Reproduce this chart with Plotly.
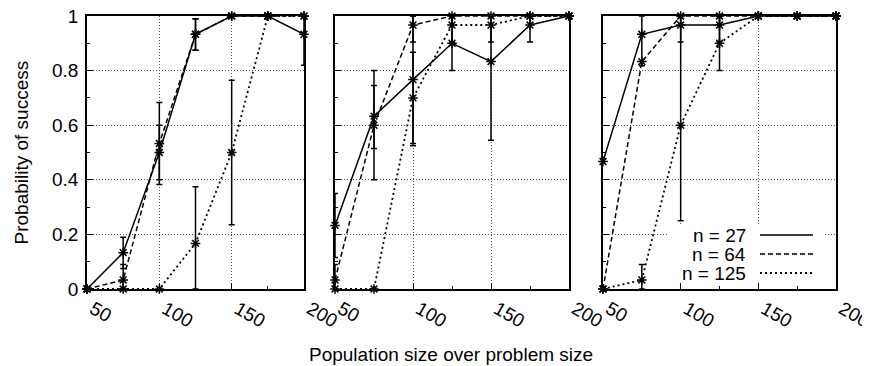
import numpy as np
import plotly.graph_objects as go

# ---------------- data ----------------
x_vals = [50, 75, 100, 125, 150, 175, 200]
x_ticks = [50, 100, 150, 200]
y_ticks = [0, 0.2, 0.4, 0.6, 0.8, 1]
series_names = ["n = 27", "n = 64", "n = 125"]

# Panel 1
p1_n27 = [0, 0.133, 0.5, 0.933, 1, 1, 0.933]
p1_n27_lo = [0, 0.075, 0.4, 0.875, 1, 1, 0.82]
p1_n27_hi = [0, 0.19, 0.6, 0.99, 1, 1, 1]
p1_n64 = [0, 0.033, 0.533, 0.933, 1, 1, 1]
p1_n64_lo = [0, 0, 0.383, 0.875, 1, 1, 1]
p1_n64_hi = [0, 0.09, 0.683, 0.99, 1, 1, 1]
p1_n125 = [0, 0, 0, 0.167, 0.5, 1, 1]
p1_n125_lo = [0, 0, 0, 0, 0.235, 1, 1]
p1_n125_hi = [0, 0, 0, 0.375, 0.765, 1, 1]

# Panel 2
p2_n27 = [0.233, 0.633, 0.767, 0.9, 0.833, 0.967, 1]
p2_n27_lo = [0.115, 0.515, 0.533, 0.8, 0.545, 0.905, 1]
p2_n27_hi = [0.35, 0.745, 1, 1, 1, 1, 1]
p2_n64 = [0.033, 0.6, 0.967, 1, 1, 1, 1]
p2_n64_lo = [0, 0.4, 0.905, 1, 1, 1, 1]
p2_n64_hi = [0.09, 0.8, 1, 1, 1, 1, 1]
p2_n125 = [0, 0, 0.7, 0.967, 0.967, 1, 1]
p2_n125_lo = [0, 0, 0.525, 0.905, 0.905, 1, 1]
p2_n125_hi = [0, 0, 0.867, 1, 1, 1, 1]

# Panel 3
p3_n27 = [0.467, 0.933, 0.967, 0.967, 1, 1, 1]
p3_n27_lo = [0.467, 0.818, 0.905, 0.907, 1, 1, 1]
p3_n27_hi = [0.467, 1, 1, 1, 1, 1, 1]
p3_n64 = [0, 0.833, 1, 1, 1, 1, 1]
p3_n64_lo = [0, 0.833, 1, 1, 1, 1, 1]
p3_n64_hi = [0, 0.833, 1, 1, 1, 1, 1]
p3_n125 = [0, 0.033, 0.6, 0.9, 1, 1, 1]
p3_n125_lo = [0, 0, 0.25, 0.8, 1, 1, 1]
p3_n125_hi = [0, 0.09, 1, 1, 1, 1, 1]

panels = [
    [(p1_n27, p1_n27_lo, p1_n27_hi), (p1_n64, p1_n64_lo, p1_n64_hi), (p1_n125, p1_n125_lo, p1_n125_hi)],
    [(p2_n27, p2_n27_lo, p2_n27_hi), (p2_n64, p2_n64_lo, p2_n64_hi), (p2_n125, p2_n125_lo, p2_n125_hi)],
    [(p3_n27, p3_n27_lo, p3_n27_hi), (p3_n64, p3_n64_lo, p3_n64_hi), (p3_n125, p3_n125_lo, p3_n125_hi)],
]

# ---------------- style / layout ----------------
# The page body has an 8px default margin, so the figure is shrunk by that amount
# and all window-pixel positions are shifted into figure coordinates.
OFF = 8
WIN_W, WIN_H = 870, 366
W, H = WIN_W - OFF, WIN_H - OFF
FONT = "Liberation Sans, Arial, Helvetica, sans-serif"
FS = 19
dashes = ["solid", "5px,3px", "2px,3px"]
widths = [1.5, 1.5, 1.8]
x_dom_win = [(87, 304), (335, 569), (603, 836)]
Y_TOP, Y_BOT = 16, 289  # window pixels


def fx(px):  # window px -> paper fraction (x)
    return (px - OFF) / W


def fy(py):  # window px -> paper fraction (y)
    return 1 - (py - OFF) / H


y_dom = [fy(Y_BOT), fy(Y_TOP)]

fig = go.Figure()

# white background of the key in panel 3 (drawn first: above grid, below data & axes)
kx0, kx1 = x_dom_win[2]


def px_to_x3(px):
    return 50 + (px - kx0) / (kx1 - kx0) * 150


def py_to_y(py):
    return (Y_BOT - py) / (Y_BOT - Y_TOP)


bx = [px_to_x3(667), px_to_x3(823), px_to_x3(823), px_to_x3(667), px_to_x3(667)]
by = [py_to_y(288), py_to_y(288), py_to_y(225), py_to_y(225), py_to_y(288)]
fig.add_trace(go.Scatter(x=bx, y=by, xaxis="x3", yaxis="y3", mode="lines",
                         fill="toself", fillcolor="white", line=dict(width=0),
                         hoverinfo="skip", showlegend=False))

for pi, series in enumerate(panels):
    ax = "" if pi == 0 else str(pi + 1)
    for si, (yv, lo, hi) in enumerate(series):
        y = np.array(yv, dtype=float)
        up = np.array(hi, dtype=float) - y
        dn = y - np.array(lo, dtype=float)
        zero = (up <= 1e-9) & (dn <= 1e-9)
        up[zero] = np.nan
        dn[zero] = np.nan
        fig.add_trace(go.Scatter(
            x=x_vals, y=y, xaxis="x" + ax, yaxis="y" + ax,
            mode="lines+markers", name=series_names[si], showlegend=False,
            line=dict(color="black", width=widths[si], dash=dashes[si]),
            marker=dict(symbol="asterisk-open", size=8, color="black",
                        line=dict(color="black", width=1.5)),
            error_y=dict(type="data", symmetric=False, array=up, arrayminus=dn,
                         color="black", thickness=1.5, width=3),
            cliponaxis=False,
        ))

axis_common = dict(
    showline=True, linecolor="black", linewidth=1.5, mirror=True,
    ticks="inside", tickcolor="black", tickwidth=1, ticklen=6,
    showgrid=True, gridcolor="#555555", gridwidth=1, griddash="1px,2px",
    zeroline=False, automargin=False, ticklabeloverflow="allow",
    tickfont=dict(family=FONT, size=FS, color="black"),
)

layout = dict(
    template="none",
    width=W, height=H, margin=dict(l=0, r=0, t=0, b=0, autoexpand=False),
    paper_bgcolor="white", plot_bgcolor="white",
    font=dict(family=FONT, size=FS, color="black"),
    showlegend=False,
)
for pi in range(3):
    ax = "" if pi == 0 else str(pi + 1)
    x0, x1 = x_dom_win[pi]
    layout["xaxis" + ax] = dict(
        axis_common, domain=[fx(x0), fx(x1)], range=[50, 200],
        tickvals=x_ticks, ticktext=[str(v) for v in x_ticks], tickangle=30,
        ticklabelshift=6, anchor="y" + ax,
        minor=dict(dtick=25, tick0=50, ticks="inside", ticklen=3,
                   tickcolor="black", showgrid=False),
    )
    layout["yaxis" + ax] = dict(
        axis_common, domain=y_dom, range=[0, 1], tickvals=y_ticks,
        showticklabels=(pi == 0), anchor="x" + ax, ticklabelstandoff=3,
        minor=dict(dtick=0.1, tick0=0, ticks="inside", ticklen=3,
                   tickcolor="black", showgrid=False),
    )
fig.update_layout(**layout)

# axis titles
fig.add_annotation(text="Probability of success", xref="paper", yref="paper",
                   x=fx(21), y=(y_dom[0] + y_dom[1]) / 2, textangle=-90,
                   showarrow=False, xanchor="center", yanchor="middle",
                   font=dict(family=FONT, size=FS, color="black"))
fig.add_annotation(text="Population size over problem size", xref="paper", yref="paper",
                   x=fx(451), y=fy(354), showarrow=False,
                   xanchor="center", yanchor="middle",
                   font=dict(family=FONT, size=FS, color="black"))


# key (gnuplot style: text right-aligned, sample line on the right), inside panel 3
def dx(px):
    return (px - kx0) / (kx1 - kx0)


def dy(py):
    return (Y_BOT - py) / (Y_BOT - Y_TOP)


key_rows = [235, 254, 273]
for si, name in enumerate(series_names):
    fig.add_annotation(text=name, xref="x3 domain", yref="y3 domain",
                       x=dx(748), y=dy(key_rows[si]), xanchor="right", yanchor="middle",
                       showarrow=False, font=dict(family=FONT, size=FS, color="black"))
    fig.add_shape(type="line", xref="x3 domain", yref="y3 domain",
                  x0=dx(760), x1=dx(813), y0=dy(key_rows[si]), y1=dy(key_rows[si]),
                  line=dict(color="black", width=widths[si], dash=dashes[si]), layer="above")

fig.write_html("out.html")
